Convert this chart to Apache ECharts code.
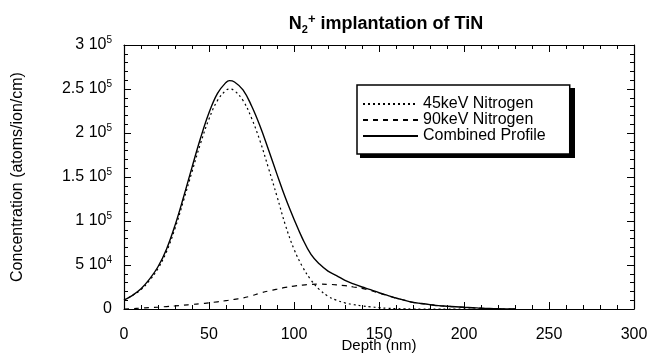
<!DOCTYPE html>
<html>
<head>
<meta charset="utf-8">
<script src="https://cdn.jsdelivr.net/npm/echarts@6/dist/echarts.min.js"></script>
<style>
  html, body { margin: 0; padding: 0; background: #fff; }
  #chart { width: 650px; height: 354px; }
</style>
</head>
<body>
<div id="chart"></div>
<script>
// depth in nm, concentration in atoms/ion/cm
const depth = [0, 5, 10, 15, 20, 25, 30, 35, 40, 45, 50, 55, 60, 62, 65, 70, 75, 80, 85, 90, 95,
  100, 105, 110, 115, 120, 125, 130, 135, 140, 145, 150, 155, 160, 165, 170, 175, 180, 185,
  190, 195, 200, 205, 210, 215, 220, 225, 230]

const kev45 = [10000, 15500, 22000, 32500, 46000, 65000, 91500, 123000, 156000, 188000, 216000,
  237000, 248500, 250000, 248000, 237000, 217000, 191000, 160000, 128000, 95000,
  68000, 48000, 33000, 22000, 14500, 10000, 7000, 5000, 3500, 2500, 1500, 800, 400, 200, 0, 0, 0, 0,
  0, 0, 0, 0, 0, 0, 0, 0, 0]

const kev90 = [0, 500, 1000, 1500, 2000, 2800, 3500, 4300, 5200, 6000, 7000,
  8200, 9500, 10000, 11000, 12500, 15000, 18000, 20500, 22500, 24500,
  26000, 27200, 28000, 28200, 28000, 27500, 26500, 25000, 23500, 21000, 18000, 15200, 12300, 9900, 7500, 6200, 4900, 3800,
  3100, 2500, 2000, 1500, 900, 500, 200, 0, 0]

const combined = [10000, 15500, 23000, 34000, 48000, 68000, 95000, 127000, 161000, 194000, 223000,
  245000, 257500, 259500, 258000, 249000, 231000, 208000, 181000, 153000, 126000,
  102000, 80000, 62000, 51000, 43000, 38000, 32500, 28500, 25000, 22000, 18500, 15500, 12500, 10000, 7500, 6300, 5000, 3800,
  3200, 2600, 2000, 1500, 900, 500, 200, 0, 0]

const yTicks = [0, 50000, 100000, 150000, 200000, 250000, 300000]
const yMantissa = ['0', '5', '1', '1.5', '2', '2.5', '3']
const yExponent = ['', '4', '5', '5', '5', '5', '5']

const seriesNames = ['45keV Nitrogen', '90keV Nitrogen', 'Combined Profile']

const FONT = 'Liberation Sans, Arial, sans-serif'

const pairs = (ys) => depth.map((d, i) => [d, ys[i]])

const yLabel = (value) => {
  const i = yTicks.indexOf(value)
  if (i < 0) return ''
  if (!yExponent[i]) return '{m|' + yMantissa[i] + '}'
  return '{m|' + yMantissa[i] + ' 10}{s|' + yExponent[i] + '}'
}

const axisBase = {
  type: 'value',
  axisLine: { show: true, onZero: false, lineStyle: { color: '#000', width: 1.2 } },
  axisTick: { show: true, inside: true, length: 7, lineStyle: { color: '#000', width: 1 } },
  minorTick: { show: true, splitNumber: 5, length: 4, lineStyle: { color: '#000', width: 1 } },
  splitLine: { show: false },
}

const chart = echarts.init(document.getElementById('chart'), null, { renderer: 'canvas' })

chart.setOption({
  animation: false,
  backgroundColor: '#fff',
  title: {
    text: '{n|N}{sub|2}{sup|+}{n| implantation of TiN}',
    left: 381,
    textAlign: 'center',
    top: 8,
    textStyle: {
      rich: {
        n: { fontFamily: FONT, fontSize: 18, fontWeight: 'bold', color: '#000' },
        sub: { fontFamily: FONT, fontSize: 11, fontWeight: 'bold', color: '#000', padding: [10, 0, 0, 0] },
        sup: { fontFamily: FONT, fontSize: 13, fontWeight: 'bold', color: '#000', padding: [0, 0, 10, 0] },
      },
    },
  },
  // drop shadow behind the legend box
  graphic: [
    {
      type: 'rect',
      z: 3,
      shape: { x: 360, y: 88, width: 215, height: 70 },
      style: { fill: '#000' },
    },
  ],
  grid: { left: 124, right: 16, top: 45, bottom: 45, containLabel: false, outerBoundsMode: 'none' },
  legend: {
    data: seriesNames,
    orient: 'vertical',
    left: 357,
    top: 85,
    padding: [11, 24, 10, 5],
    itemGap: 0,
    itemWidth: 55,
    itemHeight: 16,
    backgroundColor: '#fff',
    borderColor: '#000',
    borderWidth: 1.5,
    borderRadius: 0,
    itemStyle: { opacity: 0 },
    textStyle: { fontFamily: FONT, fontSize: 16, color: '#000', lineHeight: 16 },
  },
  xAxis: [
    {
      ...axisBase,
      min: 0,
      max: 300,
      interval: 50,
      position: 'bottom',
      axisLabel: { fontFamily: FONT, fontSize: 16, color: '#000', margin: 18 },
      name: 'Depth (nm)',
      nameLocation: 'middle',
      nameGap: 29,
      nameMoveOverlap: false,
      nameTextStyle: { fontFamily: FONT, fontSize: 15, color: '#000', verticalAlign: 'top' },
    },
    {
      ...axisBase,
      min: 0,
      max: 300,
      interval: 50,
      position: 'top',
      axisLabel: { show: false },
    },
  ],
  yAxis: [
    {
      ...axisBase,
      min: 0,
      max: 300000,
      interval: 50000,
      position: 'left',
      axisLabel: {
        margin: 12,
        formatter: yLabel,
        rich: {
          m: { fontFamily: FONT, fontSize: 16, color: '#000' },
          s: { fontFamily: FONT, fontSize: 10, color: '#000', padding: [0, 0, 9, 0] },
        },
      },
      name: 'Concentration (atoms/ion/cm)',
      nameLocation: 'middle',
      nameGap: 98,
      nameMoveOverlap: false,
      nameTextStyle: { fontFamily: FONT, fontSize: 16, color: '#000' },
    },
    {
      ...axisBase,
      min: 0,
      max: 300000,
      interval: 50000,
      position: 'right',
      axisLabel: { show: false },
    },
  ],
  series: [
    {
      name: seriesNames[0],
      type: 'line',
      smooth: 0.4,
      symbol: 'none',
      data: pairs(kev45),
      lineStyle: { color: '#000', width: 1.2, type: [2, 3] },
    },
    {
      name: seriesNames[1],
      type: 'line',
      smooth: 0.4,
      symbol: 'none',
      data: pairs(kev90),
      lineStyle: { color: '#000', width: 1.2, type: [5, 5] },
    },
    {
      name: seriesNames[2],
      type: 'line',
      smooth: 0.4,
      symbol: 'none',
      data: pairs(combined),
      lineStyle: { color: '#000', width: 1.4 },
    },
  ],
})
</script>
</body>
</html>
